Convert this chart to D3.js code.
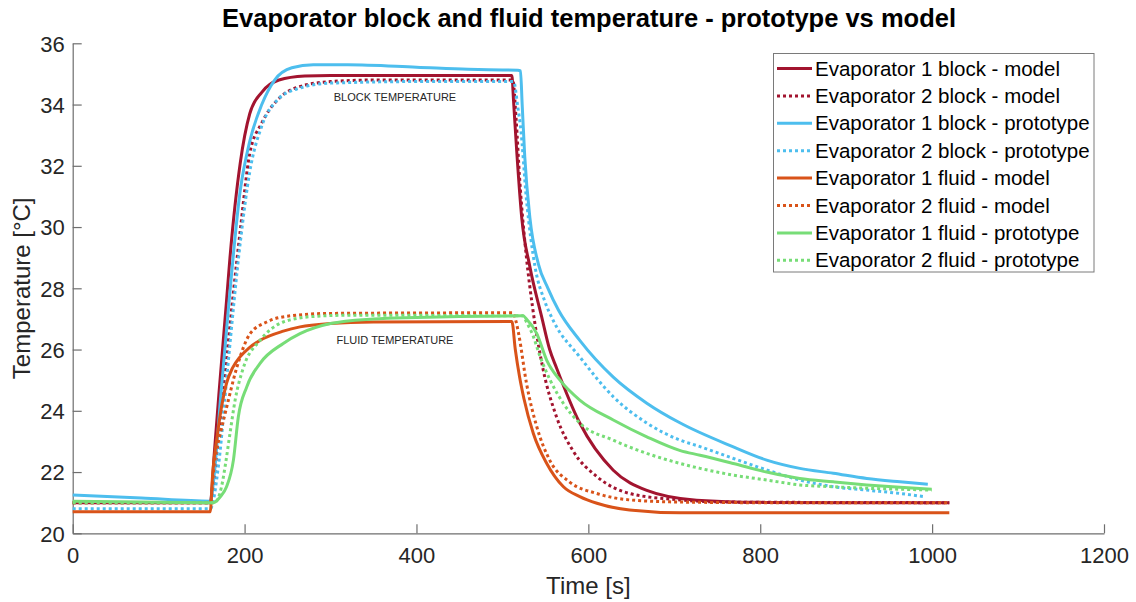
<!DOCTYPE html>
<html><head><meta charset="utf-8">
<script src="https://cdn.jsdelivr.net/npm/d3@7"></script>
<style>
body{margin:0;background:#fff;}
svg{font-family:"Liberation Sans",Arial,Helvetica,sans-serif;}
</style></head>
<body><svg id="c" width="1136" height="602"></svg>
<script>
// ---- data ----
const xTicks = [0,200,400,600,800,1000,1200];
const yTicks = [20,22,24,26,28,30,32,34,36];
const seriesNames = ["Evaporator 1 block - model","Evaporator 2 block - model","Evaporator 1 block - prototype","Evaporator 2 block - prototype","Evaporator 1 fluid - model","Evaporator 2 fluid - model","Evaporator 1 fluid - prototype","Evaporator 2 fluid - prototype"];

const t_b1m = [0,80,160,165,170,179,183,195,206,220,240,270,300,400,511,513,516.6,522.5,532,545.7,555,563,590,629,668,726,800,900,1020];
const v_b1m = [21.0,21.0,21.0,22.7,24.5,27.6,29.0,32.1,33.7,34.4,34.8,34.93,34.95,34.95,34.95,34.1,32.5,30.3,28.7,27.07,26.0,25.4,23.6,22.06,21.4,21.08,21.01,21.0,21.0];

const t_b2m = [0,80,160,170,180,195,206,220,240,260,300,350,512,516,520,528,535,547,563,582,610,648,707,760,1020];
const v_b2m = [21.0,21.0,21.0,23.3,26.0,29.9,32.4,33.4,34.2,34.55,34.75,34.8,34.8,33.5,31.6,29.0,27.4,25.4,23.8,22.7,21.85,21.3,21.09,21.02,21.0];

const t_b1p = [0,80,160,165,172,182,195,206,220,235,255,280,320,400,460,500,518,521,523,526,532,541.8,553,565,590,629,668,707,768,807.5,846,885,924,962.6,995];
const v_b1p = [21.25,21.15,21.05,22.0,24.4,27.6,31.2,32.8,34.0,34.8,35.2,35.3,35.3,35.22,35.15,35.13,35.12,35.1,34.0,32.3,30.3,28.8,28.0,27.3,26.3,25.1,24.25,23.6,22.83,22.39,22.12,21.96,21.79,21.68,21.6];

const t_b2p = [0,80,160,170,180,195,206,220,240,260,300,400,513,518,521,528,538,549,560,590,629,668,707,730,768,807.5,846,885,924,962.6,992];
const v_b2p = [20.8,20.8,20.8,22.3,25.3,29.5,31.8,33.3,34.2,34.5,34.7,34.75,34.75,33.9,33.3,30.9,28.7,27.6,26.9,25.76,24.46,23.6,23.04,22.83,22.45,22.07,21.74,21.52,21.41,21.3,21.19];

const t_f1m = [0,80,160,163,167.5,173,179,186,194.7,205,218,245,264.5,300,350,511,515,520,525,536,551.6,571,590,610,648,707,800,1020];
const v_f1m = [20.7,20.7,20.7,22.0,23.05,24.1,24.9,25.4,25.76,26.05,26.3,26.6,26.74,26.85,26.9,26.92,26.0,25.1,24.4,23.26,22.28,21.52,21.2,20.98,20.76,20.67,20.67,20.67];

const t_f2m = [0,80,160,165,173,179,190.8,206,225.7,253,300,512,516,519,528,540,555,578,610,648,707,800,1020];
const v_f2m = [21.0,21.0,21.0,22.3,23.4,24.1,25.4,26.5,26.9,27.1,27.18,27.2,26.9,26.5,24.9,23.48,22.39,21.68,21.3,21.09,21.02,21.0,21.0];

const t_f1p = [0,80,163.6,172,179,187,192.7,202.5,218,245,264.5,300,350,400,450,524,528,540,551.6,567,590,629,668,707,730,768.7,807.5,846,885,924,962.6,999.5];
const v_f1p = [21.05,21.02,21.0,21.2,21.52,22.39,23.8,24.78,25.55,26.2,26.52,26.85,27.0,27.05,27.08,27.1,27.0,26.52,25.65,25.0,24.35,23.7,23.15,22.7,22.55,22.28,22.0,21.79,21.68,21.58,21.5,21.44];

const t_f2p = [0,80,165,173,178,183,189,198.5,218,245,280,320,524,528,535,544,555.6,571,590,629,668,707,730,768.7,807.5,846,885,924,962.6,999.5];
const v_f2p = [21.0,21.0,21.0,21.5,22.3,23.26,24.35,25.4,26.3,26.9,27.08,27.12,27.1,26.9,26.5,25.76,25.0,24.24,23.6,23.04,22.61,22.28,22.12,21.9,21.74,21.58,21.52,21.47,21.44,21.41];

// ---- styles ----
const colors = ["#A2142F","#A2142F","#4DBEEE","#4DBEEE","#D95319","#D95319","#77DD77","#77DD77"];
const dotted = [false,true,false,true,false,true,false,true];
const times = [t_b1m,t_b2m,t_b1p,t_b2p,t_f1m,t_f2m,t_f1p,t_f2p];
const vals  = [v_b1m,v_b2m,v_b1p,v_b2p,v_f1m,v_f2m,v_f1p,v_f2p];

const svg = d3.select("#c");
const L=72.7, R=1104, T=43.3, B=533.3;
const x = d3.scaleLinear().domain([0,1200]).range([L,R]);
const y = d3.scaleLinear().domain([20,36]).range([B,T]);

const axCol = "#6e6e6e", txtCol="#262626";

// axes
const gx = svg.append("g").attr("transform",`translate(0,${B})`)
  .call(d3.axisBottom(x).tickValues(xTicks).tickFormat(d3.format("d")).tickSizeInner(-9).tickSizeOuter(0).tickPadding(10));
const gy = svg.append("g").attr("transform",`translate(${L},0)`)
  .call(d3.axisLeft(y).tickValues(yTicks).tickFormat(d3.format("d")).tickSizeInner(-9).tickSizeOuter(0).tickPadding(8));
[gx,gy].forEach(g=>{
  g.select(".domain").attr("stroke",axCol).attr("stroke-width",1.2);
  g.selectAll(".tick line").attr("stroke",axCol).attr("stroke-width",1.2);
  g.selectAll(".tick text").attr("fill",txtCol).style("font-size","22px").style("font-family","Liberation Sans, Arial, sans-serif");
});
gx.selectAll(".tick text").attr("dy","0.9em");
gy.selectAll(".tick text").attr("dy","0.35em");

// lines
const line = d3.line().x(d=>x(d[0])).y(d=>y(d[1])).curve(d3.curveMonotoneX);
for(let i=0;i<8;i++){
  const pts = times[i].map((t,j)=>[t,vals[i][j]]);
  svg.append("path").attr("d",line(pts)).attr("fill","none")
    .attr("stroke",colors[i]).attr("stroke-width",3)
    .attr("stroke-dasharray",dotted[i]?"3,3":null)
    .attr("stroke-linejoin","round");
}

// annotations
svg.append("text").attr("x",x(375)).attr("y",y(34.1)).attr("text-anchor","middle")
  .style("font-size","11px").attr("fill",txtCol).text("BLOCK TEMPERATURE");
svg.append("text").attr("x",x(375)).attr("y",y(26.17)).attr("text-anchor","middle")
  .style("font-size","11px").attr("fill",txtCol).text("FLUID TEMPERATURE");

// title & labels
svg.append("text").attr("x",589).attr("y",27).attr("text-anchor","middle")
  .style("font-size","25.5px").style("font-weight","bold").attr("fill","#000")
  .text("Evaporator block and fluid temperature - prototype vs model");
svg.append("text").attr("x",(L+R)/2).attr("y",594).attr("text-anchor","middle")
  .style("font-size","24px").attr("fill",txtCol).text("Time [s]");
svg.append("text").attr("transform",`translate(30,${(T+B)/2}) rotate(-90)`).attr("text-anchor","middle")
  .style("font-size","24px").attr("fill",txtCol).text("Temperature [°C]");

// legend
const lg = svg.append("g");
lg.append("rect").attr("x",773.5).attr("y",53.5).attr("width",320.5).attr("height",218.5)
  .attr("fill","#fff").attr("stroke","#7a7a7a").attr("stroke-width",1);
seriesNames.forEach((n,i)=>{
  const yy = 68.5 + i*27.4;
  lg.append("line").attr("x1",777).attr("x2",812).attr("y1",yy).attr("y2",yy)
    .attr("stroke",colors[i]).attr("stroke-width",3).attr("stroke-dasharray",dotted[i]?"3,3":null);
  lg.append("text").attr("x",815).attr("y",yy).attr("dy","0.35em")
    .style("font-size","20.5px").attr("fill","#000").text(n);
});
</script></body></html>
